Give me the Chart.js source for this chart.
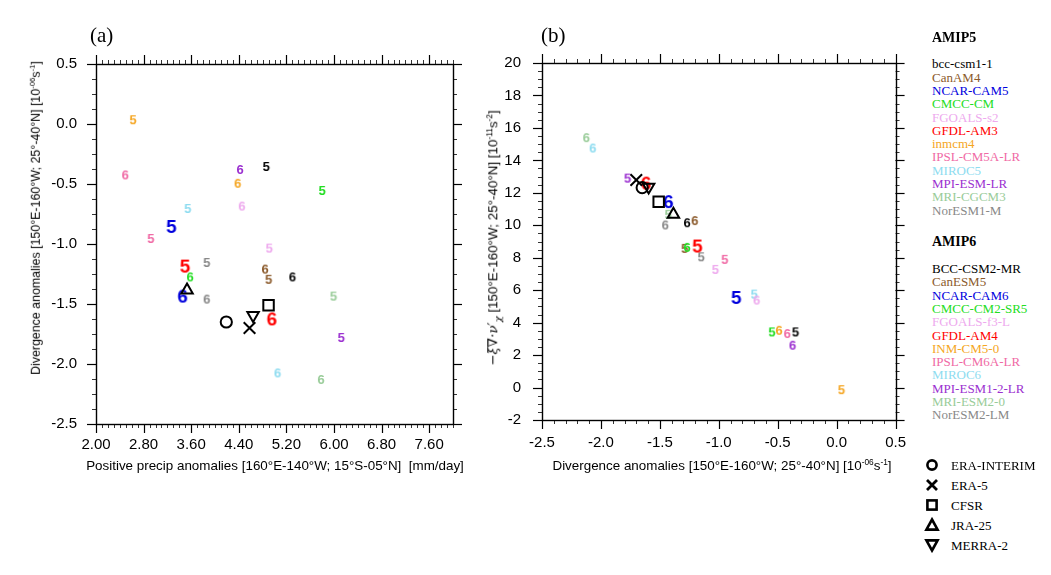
<!DOCTYPE html>
<html><head><meta charset="utf-8">
<script src="https://cdn.jsdelivr.net/npm/chart.js@4/dist/chart.umd.min.js"></script>
<style>
html,body{margin:0;padding:0;background:#fff;}
body{width:1051px;height:575px;position:relative;overflow:hidden;font-family:'Liberation Sans',Arial,sans-serif;}
.cv{position:absolute;}
.t{position:absolute;white-space:nowrap;color:#000;line-height:1;}
.ser{font-family:'Liberation Serif','Times New Roman',serif;}
.rot{transform:translate(-50%,-50%) rotate(-90deg);}
.ctr{transform:translate(-50%,-50%);}
.vc{transform:translateY(-50%);}
.sp{font-size:0.62em;position:relative;top:-0.6em;}
.sb{font-size:0.75em;position:relative;top:0.35em;}
.m{font-family:'DejaVu Serif','Liberation Serif',serif;font-style:italic;}
</style></head>
<body>
<div class="cv" style="left:0;top:0;width:480px;height:575px"><canvas id="ca"></canvas></div>
<div class="cv" style="left:480px;top:0;width:440px;height:575px"><canvas id="cb"></canvas></div>

<div class="t ser vc" style="left:90px;top:35px;font-size:21px">(a)</div>
<div class="t ser vc" style="left:541px;top:35px;font-size:21px">(b)</div>

<div class="t rot" style="left:36px;top:218px;font-size:12.4px">Divergence anomalies [150°E-160°W; 25°-40°N] [10<span class="sp">-06</span>s<span class="sp">-1</span>]</div>
<div class="t ctr" style="left:275px;top:466px;font-size:13.4px">Positive precip anomalies [160°E-140°W; 15°S-05°N]&nbsp;&nbsp;[mm/day]</div>
<div class="t rot" style="left:493px;top:238px;font-size:13.4px"><span class="m">−ξ̄∇·ν′<span class="sb">χ</span></span>&nbsp;[150°E-160°W; 25°-40°N] [10<span class="sp">-11</span>s<span class="sp">-2</span>]</div>
<div class="t ctr" style="left:722px;top:466px;font-size:13.4px">Divergence anomalies [150°E-160°W; 25°-40°N] [10<span class="sp">-06</span>s<span class="sp">-1</span>]</div>

<div id="legend"></div>

<script>
// ---------------- data ----------------
const models5 = ['bcc-csm1-1','CanAM4','NCAR-CAM5','CMCC-CM','FGOALS-s2','GFDL-AM3','inmcm4','IPSL-CM5A-LR','MIROC5','MPI-ESM-LR','MRI-CGCM3','NorESM1-M'];
const models6 = ['BCC-CSM2-MR','CanESM5','NCAR-CAM6','CMCC-CM2-SR5','FGOALS-f3-L','GFDL-AM4','INM-CM5-0','IPSL-CM6A-LR','MIROC6','MPI-ESM1-2-LR','MRI-ESM2-0','NorESM2-LM'];

// panel (a) x: positive precip anomalies [mm/day]
const precip5 = [4.86, 4.90, 3.27, 5.80, 4.91, 3.50, 2.62, 2.92, 3.54, 6.12, 5.99, 3.86];
const precip6 = [5.30, 4.84, 3.45, 3.58, 4.45, 4.95, 4.38, 2.49, 5.05, 4.42, 5.78, 3.86];
// panel (a) y and panel (b) x: divergence anomalies [1e-6 s-1]
const div5 = [-0.35, -1.29, -0.85, -0.55, -1.03, -1.18, 0.04, -0.95, -0.70, -1.775, -1.43, -1.15];
const div6 = [-1.27, -1.205, -1.43, -1.27, -0.68, -1.62, -0.49, -0.42, -2.07, -0.375, -2.125, -1.455];
// panel (b) y: vorticity source term [1e-11 s-2]
const vort5 = [3.46, 8.61, 5.58, 3.46, 7.31, 8.75, -0.10, 7.93, 5.79, 12.94, 10.71, 8.09];
const vort6 = [10.19, 10.32, 11.49, 8.67, 5.42, 12.63, 3.56, 3.36, 14.79, 2.64, 15.43, 10.05];

const refNames  = ['ERA-INTERIM', 'ERA-5', 'CFSR', 'JRA-25', 'MERRA-2'];
const refPrecip = [4.19, 4.58, 4.90, 3.53, 4.64];
const refDiv    = [-1.65, -1.70, -1.51, -1.385, -1.595];
const refVort   = [12.32, 12.79, 11.45, 10.67, 12.36];

const aXTicks = [2.0, 2.8, 3.6, 4.4, 5.2, 6.0, 6.8, 7.6];
const aYTicks = [0.5, 0.0, -0.5, -1.0, -1.5, -2.0, -2.5];
const bXTicks = [-2.5, -2.0, -1.5, -1.0, -0.5, 0.0, 0.5];
const bYTicks = [20, 18, 16, 14, 12, 10, 8, 6, 4, 2, 0, -2];

// ---------------- styles ----------------
const modelColors = ['#000000','#8b5a2b','#0000dd','#22dd22','#eeaaee','#ff0000','#f5a623','#f06aa5','#8edcf0','#9b30d0','#99cc99','#888888'];
const bigModels = [2, 5];
const refStyles = ['circle','crossRot','rect','triangle','triangle'];
const refRot    = [0, 0, 0, 0, 180];
const refRad    = [5.6, 8.2, 7.4, 6.6, 6.6];

function digit(ch, color, big) {
  const c = document.createElement('canvas');
  c.width = 40; c.height = 40;
  const g = c.getContext('2d');
  g.font = big ? 'bold 19px "Liberation Sans", Arial, sans-serif' : 'bold 13px "Liberation Sans", Arial, sans-serif';
  g.fillStyle = color;
  g.textAlign = 'left'; g.textBaseline = 'alphabetic';
  const m = g.measureText(ch);
  const x = 20 - (m.actualBoundingBoxRight - m.actualBoundingBoxLeft) / 2;
  const y = 20 + (m.actualBoundingBoxAscent - m.actualBoundingBoxDescent) / 2;
  g.fillText(ch, x, y);
  return c;
}

function buildDatasets(xs5, ys5, xs6, ys6, rx, ry) {
  const ds = [];
  refNames.forEach((n, i) => ds.push({
    label: n, data: [{x: rx[i], y: ry[i]}],
    pointStyle: refStyles[i], rotation: refRot[i], radius: refRad[i],
    borderColor: '#000', backgroundColor: 'rgba(0,0,0,0)', borderWidth: 2
  }));
  models6.forEach((n, i) => ds.push({
    label: n, data: [{x: xs6[i], y: ys6[i]}],
    pointStyle: digit('6', modelColors[i], bigModels.includes(i)), radius: 6
  }));
  models5.forEach((n, i) => ds.push({
    label: n, data: [{x: xs5[i], y: ys5[i]}],
    pointStyle: digit('5', modelColors[i], bigModels.includes(i)), radius: 6
  }));
  return ds;
}

function range(a, b, s) { const r = []; const n = Math.round((b - a) / s); for (let k = 0; k <= n; k++) r.push(a + k * s); return r; }

const nclFrame = {
  id: 'nclFrame',
  afterDraw(chart, args, o) {
    const {ctx, chartArea: a} = chart;
    const xs = chart.scales.x, ys = chart.scales.y;
    ctx.save();
    ctx.strokeStyle = '#000';
    const seg = (x1, y1, x2, y2) => { ctx.beginPath(); ctx.moveTo(x1, y1); ctx.lineTo(x2, y2); ctx.stroke(); };
    const xt = (vals, len) => vals.forEach(v => { const p = Math.round(xs.getPixelForValue(v)) + 0.5; seg(p, a.bottom, p, a.bottom + len); seg(p, a.top, p, a.top - len); });
    const yt = (vals, len) => vals.forEach(v => { const p = Math.round(ys.getPixelForValue(v)) + 0.5; seg(a.left, p, a.left - len, p); seg(a.right, p, a.right + len, p); });
    ctx.lineWidth = 0.8;
    xt(range(xs.min, xs.max, o.xMinor), 4);
    yt(range(ys.min, ys.max, o.yMinor), 4);
    ctx.lineWidth = 1.2;
    xt(o.xMajor, 9);
    yt(o.yMajor, 9);
    ctx.lineWidth = 1.4;
    ctx.strokeRect(Math.round(a.left) + 0.5, Math.round(a.top) + 0.5, Math.round(a.right - a.left), Math.round(a.bottom - a.top));
    ctx.restore();
  }
};

const tickFont = {family: '"Liberation Sans", Arial, sans-serif', size: 15};

function makeChart(id, cfg) {
  return new Chart(document.getElementById(id), {
    type: 'scatter',
    data: {datasets: cfg.datasets},
    options: {
      responsive: true, maintainAspectRatio: false, animation: false, events: [],
      layout: {padding: cfg.padding},
      plugins: {legend: {display: false}, tooltip: {enabled: false}, nclFrame: cfg.frame},
      scales: {
        x: {
          type: 'linear', position: 'bottom', min: cfg.xMin, max: cfg.xMax,
          grid: {display: false, drawTicks: false}, border: {display: false},
          afterBuildTicks: s => { s.ticks = cfg.xTicks.map(v => ({value: v})); },
          afterFit: s => { s.height = 40; },
          ticks: {font: tickFont, color: '#000', padding: cfg.xPad, maxRotation: 0, autoSkip: false, callback: cfg.xFmt}
        },
        y: {
          type: 'linear', position: 'left', min: cfg.yMin, max: cfg.yMax,
          grid: {display: false, drawTicks: false}, border: {display: false},
          afterBuildTicks: s => { s.ticks = cfg.yTicks.map(v => ({value: v})); },
          afterFit: s => { s.width = cfg.yWidth; },
          ticks: {font: tickFont, color: '#000', padding: cfg.yPad, autoSkip: false, callback: cfg.yFmt}
        }
      }
    },
    plugins: [nclFrame]
  });
}

makeChart('ca', {
  datasets: buildDatasets(precip5, div5, precip6, div6, refPrecip, refDiv),
  padding: {left: 0, top: 64, right: 27, bottom: 111},
  xMin: 2, xMax: 8, yMin: -2.5, yMax: 0.5,
  xTicks: aXTicks, yTicks: aYTicks, yWidth: 96, xPad: 12, yPad: 19,
  xFmt: v => Number(v).toFixed(2), yFmt: v => Number(v).toFixed(1),
  frame: {xMajor: aXTicks, yMajor: aYTicks, xMinor: 0.1, yMinor: 0.125}
});

makeChart('cb', {
  datasets: buildDatasets(div5, vort5, div6, vort6, refDiv, refVort),
  padding: {left: 0, top: 63, right: 22, bottom: 115},
  xMin: -2.5, xMax: 0.5, yMin: -2, yMax: 20,
  xTicks: bXTicks, yTicks: bYTicks, yWidth: 62, xPad: 14, yPad: 21,
  xFmt: v => Number(v).toFixed(1), yFmt: v => String(v),
  frame: {xMajor: bXTicks, yMajor: bYTicks, xMinor: 0.1, yMinor: 0.5}
});

// ---------------- legend ----------------
(function () {
  const L = document.getElementById('legend');
  const add = (html, x, y, css) => {
    const d = document.createElement('div');
    d.className = 't ser vc';
    d.style.cssText = `left:${x}px;top:${y}px;` + (css || '');
    d.innerHTML = html;
    L.appendChild(d);
  };
  add('AMIP5', 932, 38, 'font-size:14px;font-weight:bold;');
  models5.forEach((n, i) => add(n, 932, 63.3 + 13.3 * i, `font-size:13px;color:${modelColors[i]};`));
  add('AMIP6', 932, 242, 'font-size:14px;font-weight:bold;');
  models6.forEach((n, i) => add(n, 932, 268 + 13.3 * i, `font-size:13px;color:${modelColors[i]};`));
  const icons = [
    '<circle r="4.6" fill="none" stroke="#000" stroke-width="2.6"/>',
    '<path d="M-5,-5L5,5M5,-5L-5,5" stroke="#000" stroke-width="2.8" fill="none"/>',
    '<rect x="-4.6" y="-4.6" width="9.2" height="9.2" fill="none" stroke="#000" stroke-width="2.6"/>',
    '<polygon points="0,-5.5 5.6,4.6 -5.6,4.6" fill="none" stroke="#000" stroke-width="2.6" stroke-linejoin="miter"/>',
    '<polygon points="0,5.5 5.6,-4.6 -5.6,-4.6" fill="none" stroke="#000" stroke-width="2.6" stroke-linejoin="miter"/>'
  ];
  refNames.forEach((n, i) => {
    const y = 465 + 20 * i;
    const s = document.createElementNS('http://www.w3.org/2000/svg', 'svg');
    s.setAttribute('width', '16'); s.setAttribute('height', '16'); s.setAttribute('viewBox', '-8 -8 16 16');
    s.style.cssText = `position:absolute;left:${932 - 8}px;top:${y - 8}px;`;
    s.innerHTML = icons[i];
    L.appendChild(s);
    add(n, 951, y, 'font-size:13px;');
  });
})();
</script>
</body></html>
